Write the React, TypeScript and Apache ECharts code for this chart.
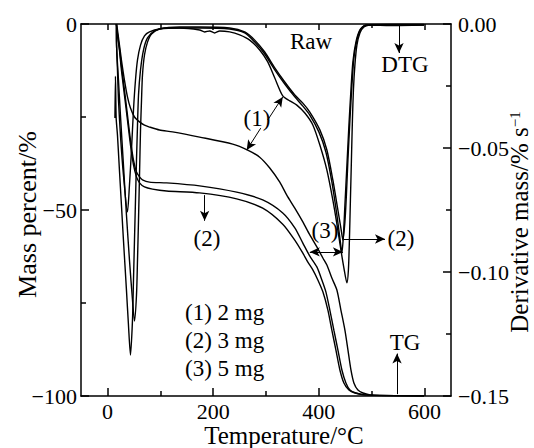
import React, { useEffect, useRef } from 'react';
import * as echarts from 'echarts';

// Temperature (°C) vs mass percent (%) — TG curves
const tg1: [number, number][] = [
  [17, 0], [19, -1.6], [22.7, -5.6], [26.5, -9.7], [32.2, -15.1], [37.9, -19.6], [43.6, -22.6], [51.2, -25],
  [60.7, -26.3], [70.1, -27.2], [79.6, -27.7], [98.6, -28.5], [123.2, -29], [174.4, -30.4], [237, -32.3],
  [265.4, -33.9], [288.1, -35.8], [307.1, -38.7], [326.1, -42.5], [339.3, -46], [354.5, -49.5], [369.7, -53.2],
  [382.9, -56.7], [396.2, -59.9], [407.6, -62.9], [415.2, -64.8], [424.6, -68.3], [434.1, -71.5], [441.7, -76.9],
  [449.3, -82.3], [455, -87.6], [460.7, -93], [466.3, -96.5], [473.9, -98.4], [483.4, -99.2], [496.7, -99.7],
  [515.6, -99.9], [599, -100],
];
const tg2: [number, number][] = [
  [17, 0], [19, -3], [22.7, -7], [26.5, -12.4], [32.2, -19.1], [37.9, -25.8], [43.6, -32.5], [49.3, -37.9],
  [55, -41.1], [60.7, -42.7], [70.1, -43.8], [85.3, -44.4], [111.8, -44.9], [174.4, -45.4], [244.5, -47],
  [293.8, -49.5], [331.7, -53.8], [354.5, -58.1], [369.7, -61.6], [379.2, -64], [388.6, -66.1], [398.1, -68.8],
  [407.6, -72], [417.1, -76.9], [424.6, -82.3], [432.2, -87.6], [439.8, -93], [447.4, -96.5], [456.9, -98.4],
  [468.2, -99.2], [487.2, -99.7], [599, -100],
];
const tg3: [number, number][] = [
  [17, 0], [19, -2.7], [22.7, -6.5], [26.5, -11.3], [32.2, -17.7], [37.9, -24.5], [43.6, -31.2], [49.3, -36.6],
  [55, -39.8], [60.7, -41.1], [66.3, -41.9], [79.6, -42.5], [111.8, -42.7], [174.4, -43.5], [244.5, -45.2],
  [293.8, -47.3], [331.7, -50.8], [354.5, -54.8], [369.7, -58.9], [382.9, -62.4], [396.2, -65.3], [405.7, -68.8],
  [413.3, -72], [420.8, -76.9], [428.4, -82.3], [436, -87.6], [443.6, -93], [451.2, -96.5], [458.8, -98.4],
  [470.1, -99.2], [487.2, -99.7], [599, -100],
];

// Temperature (°C) vs derivative mass (% s^-1) — DTG curves
const dtg1: [number, number][] = [
  [17, 0], [17.1, -0.0065], [19, -0.0185], [20.9, -0.0306], [24.6, -0.0448], [30.3, -0.0609], [37.9, -0.0758],
  [41.7, -0.0649], [45.5, -0.0508], [49.3, -0.0347], [53.1, -0.0226], [56.9, -0.0145], [62.6, -0.0085],
  [70.1, -0.0048], [79.6, -0.0032], [98.6, -0.002], [136.5, -0.0016], [174.4, -0.0024], [183.9, -0.0032],
  [193.4, -0.0028], [202.8, -0.0036], [212.3, -0.0028], [231.3, -0.0032], [250.2, -0.0044], [269.2, -0.0065],
  [288.1, -0.0105], [303.3, -0.0153], [316.6, -0.0218], [331.7, -0.029], [345, -0.031], [358.3, -0.0327],
  [373.5, -0.0359], [388.6, -0.0407], [401.9, -0.0488], [415.2, -0.0589], [426.5, -0.071], [434.1, -0.0806],
  [441.7, -0.0911], [447.4, -0.0984], [453.1, -0.1044], [455.9, -0.0992], [457.8, -0.0871], [459.7, -0.071],
  [461.6, -0.0548], [463.5, -0.0387], [465.4, -0.0266], [468.2, -0.0165], [472, -0.0085], [477.7, -0.0036],
  [485.3, -0.0012], [496.7, -0.0004], [534.6, -0.0006], [599, -0.0004],
];
const dtg2: [number, number][] = [
  [17, 0], [17.1, -0.0073], [20.9, -0.0226], [24.6, -0.0367], [30.3, -0.0569], [36, -0.077], [41.7, -0.0952],
  [47.4, -0.1113], [51.2, -0.1198], [55, -0.1093], [56.9, -0.0952], [58.8, -0.079], [60.7, -0.0609],
  [62.6, -0.0427], [64.5, -0.0306], [66.3, -0.0206], [70.1, -0.0125], [75.8, -0.0073], [83.4, -0.004],
  [98.6, -0.002], [136.5, -0.0012], [174.4, -0.0012], [231.3, -0.0016], [259.7, -0.0032], [278.7, -0.0065],
  [297.6, -0.0113], [316.6, -0.0177], [335.5, -0.0234], [354.5, -0.0286], [369.7, -0.0319], [382.9, -0.0355],
  [401.9, -0.0427], [415.2, -0.0508], [426.5, -0.0629], [436, -0.075], [441.7, -0.0823], [445.5, -0.0871],
  [449.3, -0.0798], [452.1, -0.069], [455, -0.0548], [458.8, -0.0387], [462.6, -0.0246], [466.3, -0.0137],
  [472, -0.0065], [479.6, -0.002], [489.1, -0.0004], [534.6, -0.0002], [599, -0.0002],
];
const dtg3: [number, number][] = [
  [14.2, -0.0379], [15.2, -0.021], [16.5, -0.0379], [19, -0.0448], [22.7, -0.0589], [26.5, -0.073],
  [30.3, -0.0871], [36, -0.1073], [39.8, -0.1214], [43.6, -0.1335], [47.4, -0.1194], [49.3, -0.1032],
  [51.2, -0.0871], [53.1, -0.071], [55, -0.0548], [56.9, -0.0407], [58.8, -0.0286], [62.6, -0.0185],
  [68.2, -0.0105], [75.8, -0.0056], [89.1, -0.0028], [108.1, -0.0016], [174.4, -0.0016], [231.3, -0.002],
  [259.7, -0.0036], [278.7, -0.0073], [297.6, -0.0121], [316.6, -0.0185], [335.5, -0.0242], [354.5, -0.0294],
  [369.7, -0.0331], [382.9, -0.0367], [400, -0.0435], [413.3, -0.0516], [424.6, -0.0637], [434.1, -0.077],
  [439.8, -0.0863], [443.6, -0.0923], [446.5, -0.0851], [449.3, -0.073], [453.1, -0.0569], [456.9, -0.0407],
  [460.7, -0.0266], [464.4, -0.0153], [470.1, -0.0073], [477.7, -0.0024], [487.2, -0.0006], [534.6, -0.0004],
  [599, -0.0004],
];

const xMajorTicks = [0, 200, 400, 600];
const xMinorTicks = [100, 300, 500];
const legendLines = ['(1) 2 mg', '(2) 3 mg', '(3) 5 mg'];

const FONT = 'Liberation Serif, Times New Roman, serif';
const BLACK = '#000';

const arrow = (a: [number, number], b: [number, number], both = false) => [
  { coord: a, symbol: both ? 'arrow' : 'none' },
  { coord: b, symbol: 'arrow' },
];

const markLineBase = {
  silent: true,
  animation: false,
  symbolSize: [7, 10],
  label: { show: false },
  lineStyle: { color: BLACK, width: 1, type: 'solid' },
  emphasis: { disabled: true },
};

export default function App() {
  const ref = useRef<HTMLDivElement>(null);
  useEffect(() => {
    if (!ref.current) return;
    const chart = echarts.init(ref.current, null, { renderer: 'svg' });
    const axisLine = { show: true, onZero: false, lineStyle: { color: BLACK, width: 1.5 } };
    const xCommon = { type: 'value', min: -50, max: 650, splitLine: { show: false }, nameMoveOverlap: false };
    const lineSeries = (name: string, data: [number, number][], yIdx: number, extra: any = {}) => ({
      name,
      type: 'line',
      data,
      xAxisIndex: 0,
      yAxisIndex: yIdx,
      showSymbol: false,
      symbol: 'none',
      smooth: 0.25,
      lineStyle: { color: BLACK, width: 1.4 },
      emphasis: { disabled: true },
      ...extra,
    });
    const texts: any[] = [
      { x: 311, y: 41, t: 'Raw' },
      { x: 257, y: 118, t: '(1)' },
      { x: 207, y: 238, t: '(2)' },
      { x: 325, y: 230, t: '(3)' },
      { x: 401, y: 238, t: '(2)' },
      { x: 405, y: 64, t: 'DTG' },
      { x: 405, y: 342, t: 'TG' },
    ].map((d) => ({
      type: 'text',
      x: d.x,
      y: d.y,
      silent: true,
      style: { text: d.t, fontSize: 23, fontFamily: FONT, fill: BLACK, align: 'center', verticalAlign: 'middle' },
    }));
    legendLines.forEach((t, i) => {
      texts.push({
        type: 'text',
        x: 185,
        y: 312 + i * 28,
        silent: true,
        style: { text: t, fontSize: 23, fontFamily: FONT, fill: BLACK, align: 'left', verticalAlign: 'middle' },
      });
    });

    chart.setOption({
      animation: false,
      backgroundColor: '#fff',
      grid: { left: 81, right: 83, top: 24, bottom: 52, containLabel: false, outerBoundsMode: 'none' },
      xAxis: [
        {
          ...xCommon,
          position: 'bottom',
          axisLine,
          axisTick: { show: true, inside: true, length: 8, customValues: xMajorTicks, lineStyle: { color: BLACK, width: 1.5 } },
          axisLabel: { customValues: xMajorTicks, color: BLACK, fontSize: 22, fontFamily: FONT, margin: 4 },
          name: 'Temperature/°C',
          nameLocation: 'middle',
          nameGap: 27,
          nameTextStyle: { color: BLACK, fontSize: 25, fontFamily: FONT, padding: [0, 0, 0, 36] },
        },
        {
          ...xCommon,
          position: 'bottom',
          axisLine: { show: false, onZero: false },
          axisTick: { show: true, inside: true, length: 5, customValues: xMinorTicks, lineStyle: { color: BLACK, width: 1.5 } },
          axisLabel: { show: false },
        },
        {
          ...xCommon,
          position: 'top',
          axisLine,
          axisTick: { show: true, inside: true, length: 6, customValues: xMajorTicks, lineStyle: { color: BLACK, width: 1.5 } },
          axisLabel: { show: false },
        },
        {
          ...xCommon,
          position: 'top',
          axisLine: { show: false, onZero: false },
          axisTick: { show: true, inside: true, length: 4, customValues: xMinorTicks, lineStyle: { color: BLACK, width: 1.5 } },
          axisLabel: { show: false },
        },
      ],
      yAxis: [
        {
          type: 'value',
          position: 'left',
          min: -100,
          max: 0,
          interval: 50,
          axisLine,
          splitLine: { show: false },
          axisTick: { show: true, inside: true, length: 8, lineStyle: { color: BLACK, width: 1.5 } },
          minorTick: { show: true, splitNumber: 2, length: 5, lineStyle: { color: BLACK, width: 1.5 } },
          minorSplitLine: { show: false },
          axisLabel: {
            color: BLACK,
            fontSize: 22,
            fontFamily: FONT,
            margin: 4,
            formatter: (v: number) => (v < 0 ? '\u2212' + Math.abs(v) : String(v)),
          },
          name: 'Mass percent/%',
          nameLocation: 'middle',
          nameRotate: 90,
          nameGap: 41,
          nameMoveOverlap: false,
          nameTextStyle: { color: BLACK, fontSize: 26, fontFamily: FONT, padding: [0, 9, 0, 0] },
        },
        {
          type: 'value',
          position: 'right',
          min: -0.15,
          max: 0,
          interval: 0.05,
          axisLine,
          splitLine: { show: false },
          axisTick: { show: true, inside: true, length: 8, lineStyle: { color: BLACK, width: 1.5 } },
          minorTick: { show: true, splitNumber: 2, length: 5, lineStyle: { color: BLACK, width: 1.5 } },
          minorSplitLine: { show: false },
          axisLabel: {
            color: BLACK,
            fontSize: 22,
            fontFamily: FONT,
            margin: 7,
            formatter: (v: number) => (Math.abs(v) < 1e-9 ? '0.00' : '\u2212' + Math.abs(v).toFixed(2)),
          },
          name: 'Derivative mass/% s{sup|\u22121}',
          nameLocation: 'middle',
          nameRotate: 90,
          nameGap: 56,
          nameMoveOverlap: false,
          nameTextStyle: {
            color: BLACK,
            fontSize: 25,
            fontFamily: FONT,
            padding: [0, 24, 0, 0],
            rich: { sup: { fontSize: 15, fontFamily: FONT, color: BLACK, verticalAlign: 'top' } },
          },
        },
      ],
      series: [
        lineSeries('TG (1)', tg1, 0, {
          markLine: { ...markLineBase, data: [arrow([290, -28.0], [263.5, -33.9])] },
        }),
        lineSeries('TG (2)', tg2, 0, {
          markLine: { ...markLineBase, data: [arrow([183.9, -46], [183.9, -52.9]), arrow([547.9, -99.5], [547.9, -88.6])] },
        }),
        lineSeries('TG (3)', tg3, 0),
        lineSeries('DTG (1)', dtg1, 1, {
          markLine: { ...markLineBase, data: [arrow([303.3, -0.0387], [331.7, -0.0294])] },
        }),
        lineSeries('DTG (2)', dtg2, 1, {
          markLine: {
            ...markLineBase,
            data: [arrow([447.4, -0.0867], [525.1, -0.0867]), arrow([551.6, -0.0004], [551.6, -0.0117])],
          },
        }),
        lineSeries('DTG (3)', dtg3, 1, {
          markLine: { ...markLineBase, data: [arrow([382.9, -0.0919], [445.5, -0.0919], true)] },
        }),
      ],
      graphic: texts,
    });
    return () => chart.dispose();
  }, []);
  return <div ref={ref} style={{ position: 'fixed', left: 0, top: 0, width: 534, height: 448, background: '#fff' }} />;
}
